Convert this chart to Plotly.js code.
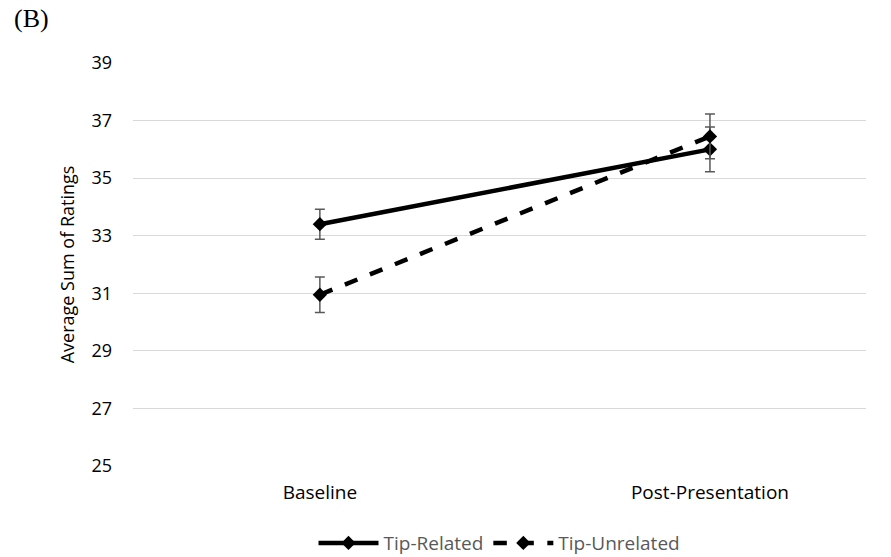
<!DOCTYPE html>
<html>
<head>
<meta charset="utf-8">
<script src="https://cdn.plot.ly/plotly-3.0.1.min.js"></script>
<style>
  html, body { margin: 0; padding: 0; background: #fff; }
  #chart { width: 891px; height: 557px; }
</style>
</head>
<body>
<div id="chart"></div>
<script>
// Conditions along the x axis
const conditions = ["Baseline", "Post-Presentation"];

// Mean sum of ratings per group
const tipRelated = [33.4, 36.0];
const tipUnrelated = [30.95, 36.45];

// Error bar half-widths
const tipRelatedErr = [0.52, 0.78];
const tipUnrelatedErr = [0.62, 0.78];

const yTicks = [25, 27, 29, 31, 33, 35, 37, 39];

const xPos = conditions.map((_, i) => i);

const errStyle = (arr) => ({
  type: "data", array: arr, visible: true,
  color: "#595959", thickness: 1.5, width: 5
});

const traces = [
  {
    x: xPos, y: tipRelated, name: "Tip-Related",
    type: "scatter", mode: "lines+markers",
    line: { color: "#000", width: 4.5 },
    marker: { symbol: "diamond", size: 11, color: "#000" },
    error_y: errStyle(tipRelatedErr)
  },
  {
    x: xPos, y: tipUnrelated, name: "Tip-Unrelated",
    type: "scatter", mode: "lines+markers",
    line: { color: "#000", width: 4.5, dash: "dash" },
    marker: { symbol: "diamond", size: 11, color: "#000" },
    error_y: errStyle(tipUnrelatedErr)
  }
];

const layout = {
  width: 891, height: 557,
  margin: { l: 133, r: 25, t: 63, b: 91, autoexpand: false },
  paper_bgcolor: "#fff", plot_bgcolor: "#fff",
  font: { family: "'Open Sans', sans-serif", color: "#000", size: 18 },
  showlegend: true,
  legend: {
    orientation: "h", x: 0.5, xanchor: "center",
    yref: "container", y: 0.025, yanchor: "middle",
    font: { size: 19, color: "#595959" }, traceorder: "normal",
    itemwidth: 60
  },
  xaxis: {
    range: [-0.479, 1.4],
    tickmode: "array", tickvals: xPos, ticktext: conditions,
    showgrid: false, zeroline: false, showline: false, ticks: "",
    tickfont: { size: 19, color: "#000" },
    ticklabelstandoff: 13,
    fixedrange: true
  },
  yaxis: {
    range: [25, 39],
    tickmode: "array", tickvals: yTicks,
    showgrid: true, gridcolor: "#d9d9d9", gridwidth: 1,
    zeroline: false, showline: false, ticks: "",
    tickfont: { size: 18, color: "#000" },
    ticklabelstandoff: 20,
    title: { text: "Average Sum of Ratings", font: { size: 18, color: "#000" }, standoff: 12 },
    fixedrange: true
  },
  annotations: [
    {
      text: "(B)", xref: "paper", yref: "paper",
      x: -0.165, y: 1.152, xanchor: "left", yanchor: "top",
      showarrow: false,
      font: { family: "'Liberation Serif', 'DejaVu Serif', serif", size: 26, color: "#000" }
    }
  ]
};

Plotly.newPlot("chart", traces, layout, { displayModeBar: false, staticPlot: true });
</script>
</body>
</html>
